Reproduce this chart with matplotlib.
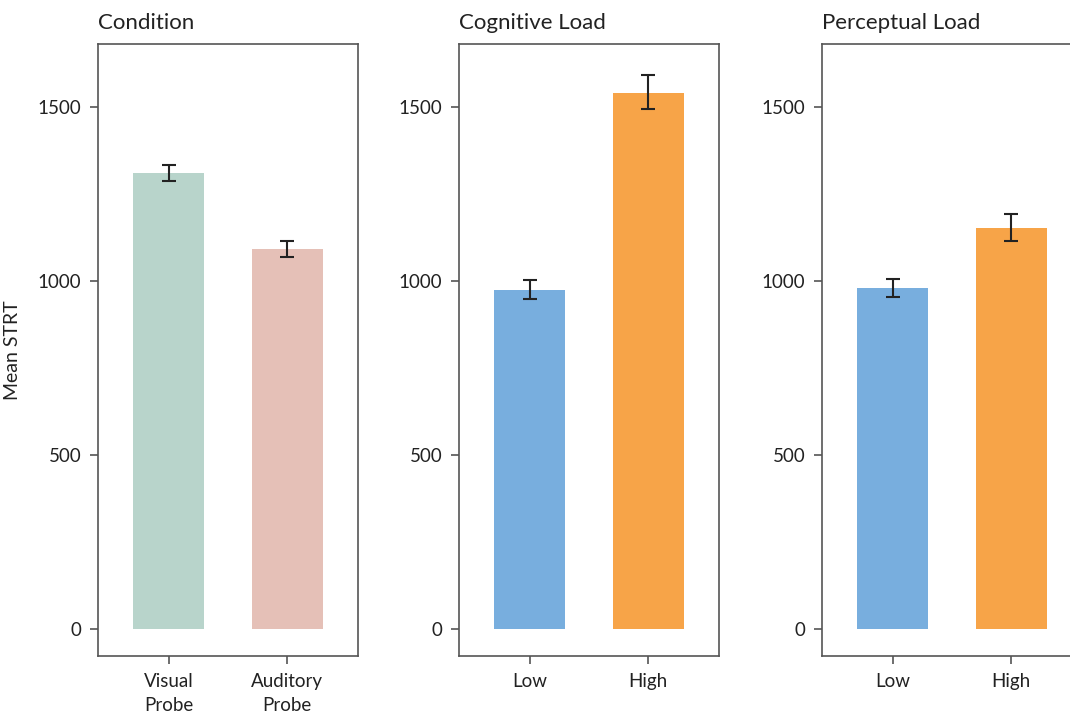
import matplotlib

matplotlib.use("Agg")
import matplotlib.pyplot as plt

plt.rcParams["font.family"] = ["Lato", "DejaVu Sans"]

# values (mean STRT, error bar low/high)
panels = ["Condition", "Cognitive Load", "Perceptual Load"]
cats = [["Visual\nProbe", "Auditory\nProbe"], ["Low", "High"], ["Low", "High"]]
means = [[1310, 1092], [974, 1540], [980, 1152]]
err_lo = [[1287, 1069], [948, 1492], [954, 1115]]
err_hi = [[1333, 1115], [1001, 1590], [1006, 1193]]
colors = [["#b8d4cb", "#e5c0b7"], ["#78aede", "#f7a448"], ["#78aede", "#f7a448"]]

fig = plt.figure(figsize=(10.7, 7.14), dpi=100)
W, H = 1070, 714
lefts = [98, 459, 822]
spine_c = "#555555"

for i, name in enumerate(panels):
    ax = fig.add_axes([lefts[i] / W, 1 - 656 / H, 260 / W, (656 - 44) / H])
    xs = range(len(cats[i]))
    m = means[i]
    yerr = [
        [a - b for a, b in zip(m, err_lo[i])],
        [b - a for a, b in zip(m, err_hi[i])],
    ]
    ax.bar(xs, m, width=0.6, color=colors[i])
    ax.errorbar(
        xs, m, yerr=yerr, fmt="none", ecolor="#222222", elinewidth=1.5,
        capsize=5, capthick=1.5,
    )
    ax.set_xlim(-0.6, 1.6)
    ax.set_ylim(-78, 1680)
    ax.set_yticks([0, 500, 1000, 1500])
    ax.set_xticks(list(xs))
    ax.set_xticklabels(cats[i], linespacing=1.55)
    ax.tick_params(labelsize=13.5, color=spine_c, labelcolor="#222222", length=6,
                   width=1.2, pad=6)
    for s in ax.spines.values():
        s.set_color(spine_c)
        s.set_linewidth(1.2)
    ax.set_title(name, loc="left", fontsize=16, color="#222222", pad=11)
    if i == 0:
        ax.set_ylabel("Mean STRT", fontsize=14, color="#222222", labelpad=12)

fig.savefig("out.png", dpi=100)
